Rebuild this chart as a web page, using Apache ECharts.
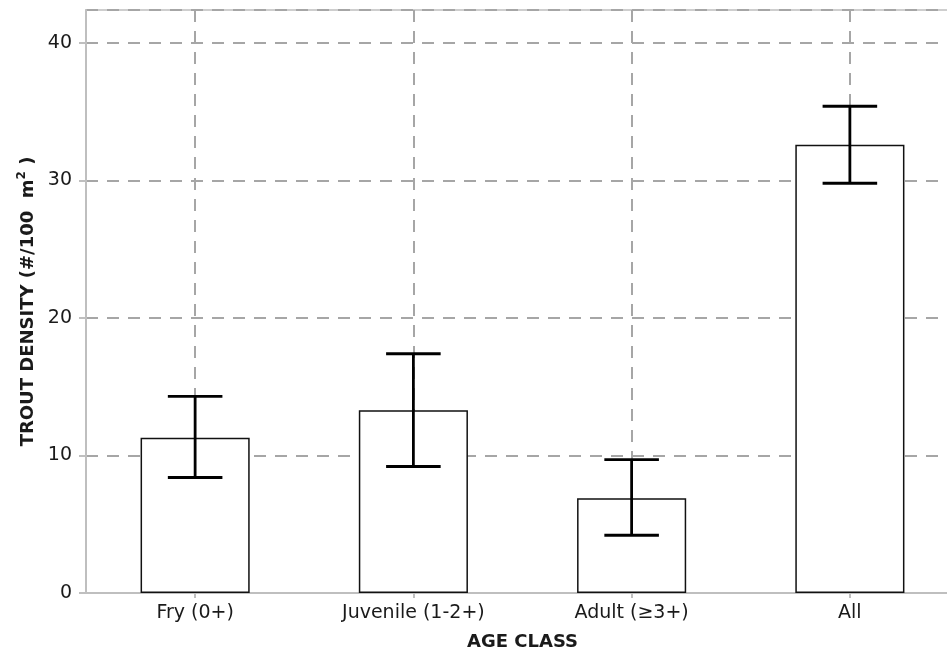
<!DOCTYPE html>
<html>
<head>
<meta charset="utf-8">
<title>Trout density by age class</title>
<script src="https://cdn.jsdelivr.net/npm/echarts@6/dist/echarts.min.js"></script>
<style>
  html, body { margin: 0; padding: 0; background: #ffffff; }
  #chart { width: 947px; height: 651px; }
</style>
</head>
<body>
<div id="chart"></div>
<script>
// Age classes on the horizontal axis
const ageClasses = ['Fry (0+)', 'Juvenile (1-2+)', 'Adult (\u22653+)', 'All'];
// Mean trout density (#/100 m²) per age class
const meanDensity = [11.3, 13.3, 6.9, 32.6];
// Lower and upper ends of the error bars
const errLow = [8.4, 9.2, 4.2, 29.8];
const errHigh = [14.3, 17.4, 9.7, 35.4];

const gridGray = '#a6a6a6';
const axisGray = '#bfbfbf';
const textColor = '#1a1a1a';
const fontFamily = '"DejaVu Sans", "Open Sans", sans-serif';

const errorData = ageClasses.map((c, i) => [i, errLow[i], errHigh[i]]);

const chart = echarts.init(document.getElementById('chart'), null, { renderer: 'canvas' });

chart.setOption({
  animation: false,
  backgroundColor: '#ffffff',
  grid: {
    left: 86, top: 10, width: 873, height: 583,
    outerBoundsMode: 'none',
    containLabel: false,
    show: true, borderColor: axisGray, borderWidth: 1.5, backgroundColor: 'transparent'
  },
  xAxis: {
    type: 'category',
    data: ageClasses,
    boundaryGap: true,
    name: 'AGE CLASS',
    nameLocation: 'middle',
    nameGap: 40,
    nameTextStyle: { fontFamily, fontSize: 18, fontWeight: 'bold', color: textColor },
    axisLine: { show: true, lineStyle: { color: axisGray, width: 2 } },
    axisTick: { show: true, alignWithLabel: true, length: 5, lineStyle: { color: axisGray, width: 2 } },
    axisLabel: { fontFamily, fontSize: 19, color: textColor, margin: 11 },
    splitLine: {
      show: true, alignWithLabel: true,
      lineStyle: { color: gridGray, width: 2, type: [12, 9] }
    }
  },
  yAxis: {
    type: 'value',
    min: 0,
    max: 42.4,
    interval: 10,
    name: '{t|TROUT DENSITY (#/100  m}{sup|2}{t| )}',
    nameLocation: 'middle',
    nameGap: 46,
    nameRotate: 90,
    nameTextStyle: {
      fontFamily, fontSize: 18, fontWeight: 'bold', color: textColor,
      rich: {
        t: { fontFamily, fontSize: 18, fontWeight: 'bold', color: textColor },
        sup: { fontFamily, fontSize: 12, fontWeight: 'bold', color: textColor, padding: [0, 0, 12, 0] }
      }
    },
    axisLine: { show: true, lineStyle: { color: axisGray, width: 2 } },
    axisTick: { show: true, length: 7, lineStyle: { color: axisGray, width: 2 } },
    axisLabel: { fontFamily, fontSize: 19, color: textColor, margin: 14, showMaxLabel: false },
    splitLine: { show: true, lineStyle: { color: gridGray, width: 2, type: [12, 9] } }
  },
  series: [
    {
      type: 'bar',
      data: meanDensity,
      barWidth: '50%',
      itemStyle: { color: '#ffffff', borderColor: '#111111', borderWidth: 1.5 },
      z: 3
    },
    {
      type: 'custom',
      data: errorData,
      z: 5,
      renderItem: function (params, api) {
        const x = api.value(0);
        const lo = api.coord([x, api.value(1)]);
        const hi = api.coord([x, api.value(2)]);
        const half = api.size([1, 0])[0] * 0.125;
        const style = { stroke: '#000000', lineWidth: 2.8 };
        return {
          type: 'group',
          children: [
            { type: 'line', shape: { x1: hi[0], y1: hi[1], x2: lo[0], y2: lo[1] }, style },
            { type: 'line', shape: { x1: hi[0] - half, y1: hi[1], x2: hi[0] + half, y2: hi[1] }, style },
            { type: 'line', shape: { x1: lo[0] - half, y1: lo[1], x2: lo[0] + half, y2: lo[1] }, style }
          ]
        };
      }
    }
  ]
});
</script>
</body>
</html>
